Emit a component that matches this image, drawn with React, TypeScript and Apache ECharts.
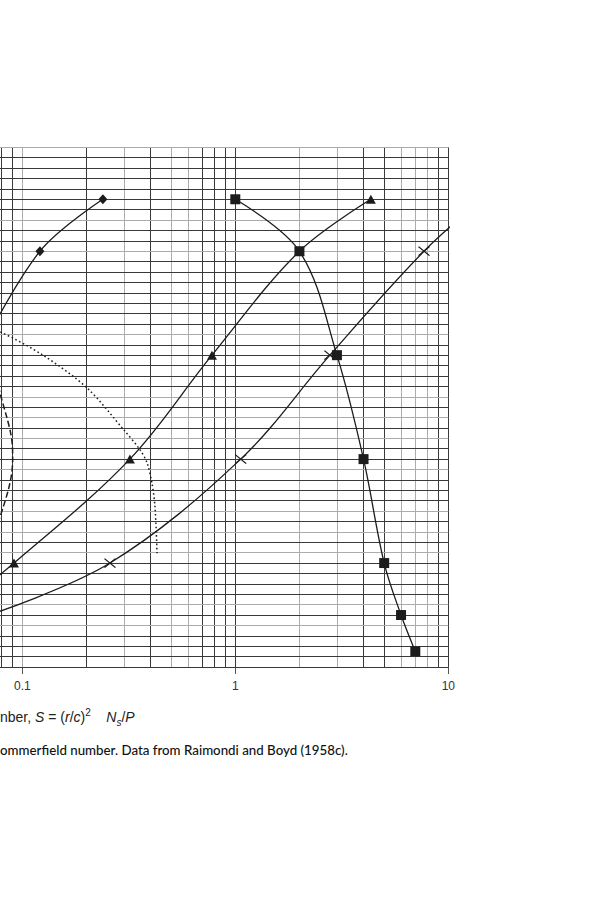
import React, { useEffect, useRef } from "react";
import * as echarts from "echarts";

// Sommerfeld number S (x, log) vs. variable (y) for each marked curve
const squareS = [1.0, 2.0, 3.0, 4.0, 5.0, 6.0, 7.0];
const squareY = [0.9, 0.8, 0.6, 0.4, 0.2, 0.1, 0.03];
const triangleS = [4.33, 2.0, 0.777, 0.32, 0.0914, 0.045];
const triangleY = [0.9, 0.8, 0.6, 0.4, 0.2, 0.1];
const crossS = [14.5, 7.69, 2.78, 1.06, 0.258, 0.07];
const crossY = [0.9, 0.8, 0.6, 0.4, 0.2, 0.1];
const diamondS = [0.239, 0.121, 0.062];
const diamondY = [0.9, 0.8, 0.6];
const dottedS = [0.0634, 0.0786, 0.125, 0.2014, 0.3, 0.357, 0.385, 0.406, 0.4198, 0.429];
const dottedY = [0.656, 0.645, 0.6, 0.537, 0.456, 0.418, 0.393, 0.354, 0.308, 0.219];
const dashedS = [0.0721, 0.0786, 0.0845, 0.088, 0.0898, 0.0901, 0.089, 0.086, 0.0814, 0.0786, 0.0737];
const dashedY = [0.591, 0.527, 0.481, 0.452, 0.427, 0.398, 0.37, 0.341, 0.308, 0.289, 0.254];

// grid
const xTickLabels = [0.1, 1, 10];
const xGridValues = [
  0.01, 0.02, 0.03, 0.04, 0.05, 0.06, 0.07, 0.08, 0.09,
  0.1, 0.2, 0.3, 0.4, 0.5, 0.6, 0.7, 0.8, 0.9,
  1, 2, 3, 4, 5, 6, 7, 8, 9, 10,
];
const xGrayValues = [0.1, 0.3, 0.5, 0.6, 2, 3, 6, 7, 8];
const yGridCount = 50; // lines every 0.02 from 0 to 1
const yGrayIndexFromTop = [0, 7, 10, 18, 24, 26, 28, 31, 35, 37, 39, 44, 46];

const DARK = "#3a3a3a";
const GRAY = "#ababab";
const INK = "#1c1c1c";

function pairs(xs: number[], ys: number[]) {
  return xs.map((x, i) => [x, ys[i]]);
}

export default function App() {
  const ref = useRef<HTMLDivElement>(null);
  useEffect(() => {
    if (!ref.current) return;
    const chart = echarts.init(ref.current, undefined, { renderer: "svg" });

    const vLines = xGridValues.map((v) => ({
      xAxis: v,
      lineStyle: { color: xGrayValues.includes(v) ? GRAY : DARK, width: 1, type: "solid" },
    }));
    const hLines: any[] = [];
    for (let i = 0; i <= yGridCount; i++) {
      const v = +(1 - i / yGridCount).toFixed(4);
      hLines.push({
        yAxis: v,
        lineStyle: { color: yGrayIndexFromTop.includes(i) ? GRAY : DARK, width: 1, type: "solid" },
      });
    }

    const common = {
      type: "line",
      smooth: 0.35,
      lineStyle: { color: INK, width: 1.3 },
      z: 3,
      clip: true,
    };

    chart.setOption({
      animation: false,
      backgroundColor: "#ffffff",
      grid: { left: 9.3, right: 151.7, top: 147.3, bottom: 233 },
      xAxis: {
        type: "log",
        logBase: 10,
        min: 0.01,
        max: 10,
        axisLine: { show: false },
        splitLine: { show: false },
        minorTick: { show: false },
        axisTick: { show: true, length: 7, lineStyle: { color: "#555", width: 1 } },
        axisLabel: {
          fontSize: 12,
          color: "#333",
          fontFamily: "Liberation Sans, Arial, sans-serif",
          margin: 13,
          formatter: (v: number) => {
            const found = xTickLabels.find((t) => Math.abs(t - v) / t < 1e-6);
            return found !== undefined ? String(found) : "";
          },
        },
      },
      yAxis: { type: "value", min: 0, max: 1, show: false },
      graphic: [
        {
          type: "text",
          x: 200,
          y: 717,
          style: {
            text: "{a|nber, }{i|S}{a| = (}{i|r}{a|/}{i|c}{a|)}{sup|2}{a|    }{i|N}{sub|s}{a|/}{i|P}",
            verticalAlign: "middle",
            rich: {
              a: { fontSize: 14, fontFamily: "Liberation Sans, Arial, sans-serif", fill: "#222", lineHeight: 22, verticalAlign: "middle" },
              i: { fontSize: 14, fontStyle: "italic", fontFamily: "Liberation Sans, Arial, sans-serif", fill: "#222", lineHeight: 22, verticalAlign: "middle" },
              sup: { fontSize: 10, fontFamily: "Liberation Sans, Arial, sans-serif", fill: "#222", lineHeight: 22, verticalAlign: "top", padding: [1, 0, 0, 0] },
              sub: { fontSize: 10, fontStyle: "italic", fontFamily: "Liberation Sans, Arial, sans-serif", fill: "#222", lineHeight: 22, verticalAlign: "bottom", padding: [0, 0, 1, 0] },
            },
          },
        },
        {
          type: "text",
          x: 200,
          y: 750,
          style: {
            text: "ommerfield number. Data from Raimondi and Boyd (1958c).",
            fontSize: 13.3,
            fontFamily: "Lato, 'Open Sans', sans-serif",
            fontWeight: 500,
            fill: "#111",
            verticalAlign: "middle",
          },
        },
      ],
      series: [
        {
          type: "line",
          data: [],
          silent: true,
          z: 1,
          markLine: {
            z: 1,
            silent: true,
            symbol: ["none", "none"],
            label: { show: false },
            animation: false,
            data: [...vLines, ...hLines],
          },
        },
        {
          ...common,
          name: "dotted",
          data: pairs(dottedS, dottedY),
          showSymbol: false,
          symbol: "none",
          smooth: 0.3,
          lineStyle: { color: INK, width: 1.5, type: [1.6, 2.6] },
        },
        {
          ...common,
          name: "dashed",
          data: pairs(dashedS, dashedY),
          showSymbol: false,
          symbol: "none",
          smooth: 0.3,
          lineStyle: { color: INK, width: 1.5, type: [6, 3] },
        },
        {
          ...common,
          name: "diamond",
          data: pairs(diamondS, diamondY),
          symbol: "diamond",
          symbolSize: [9, 10],
          itemStyle: { color: INK },
        },
        {
          ...common,
          name: "triangle",
          data: pairs(triangleS, triangleY),
          symbol: "triangle",
          symbolSize: [10, 9],
          itemStyle: { color: INK },
        },
        {
          ...common,
          name: "cross",
          data: pairs(crossS, crossY),
          symbol: "path://M0,0L10,10M10,0L0,10",
          symbolSize: [11, 9],
          itemStyle: { color: "transparent", borderColor: INK, borderWidth: 1.2 },
        },
        {
          ...common,
          name: "square",
          data: pairs(squareS, squareY),
          symbol: "rect",
          symbolSize: 10,
          itemStyle: { color: INK },
        },
      ],
    });
    return () => chart.dispose();
  }, []);

  return (
    <div
      style={{
        position: "fixed",
        left: 0,
        top: 0,
        width: 599,
        height: 900,
        overflow: "hidden",
        background: "#fff",
      }}
    >
      <div ref={ref} style={{ position: "absolute", left: -200, top: 0, width: 800, height: 900 }} />
    </div>
  );
}
